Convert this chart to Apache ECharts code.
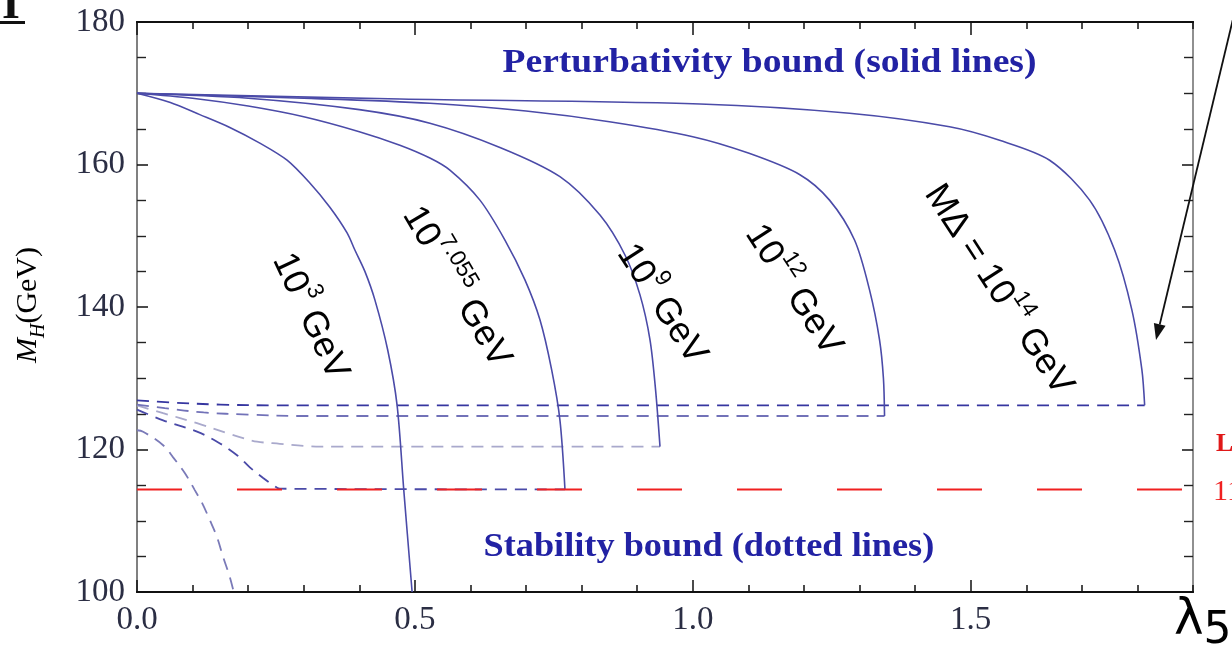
<!DOCTYPE html>
<html>
<head>
<meta charset="utf-8">
<script src="https://cdn.jsdelivr.net/npm/echarts@6/dist/echarts.min.js"></script>
<style>
  html, body { margin: 0; padding: 0; background: #fff; }
  #chart { width: 1232px; height: 650px; }
</style>
</head>
<body>
<div id="chart"></div>
<script>
// Axis ticks and labels
const lambdaMajorTicks = [0, 0.5, 1.0, 1.5];
const lambdaMinorTicks = [0, 0.1, 0.2, 0.3, 0.4, 0.5, 0.6, 0.7, 0.8, 0.9, 1.0, 1.1, 1.2, 1.3, 1.4, 1.5, 1.6, 1.7, 1.8, 1.9];

// Perturbativity bound (solid) for each triplet mass M_Delta: [lambda5, M_H]
const pert_1e3 = [[0,170],[0.06,168.7],[0.113,167.0],[0.167,165.2],[0.221,163.0],[0.27,160.6],[0.311,157.4],[0.347,154.0],[0.378,150.4],[0.392,148.0],[0.41,145.0],[0.428,141.0],[0.451,134.0],[0.468,126.2],[0.48,114.3],[0.495,100]];
const pert_1e7055 = [[0,170],[0.1,169.3],[0.2,168.2],[0.3,166.7],[0.4,164.6],[0.473,162.7],[0.527,160.9],[0.563,159.2],[0.617,155.0],[0.662,149.4],[0.698,143.8],[0.725,138.2],[0.746,131.2],[0.761,124.1],[0.77,114.4]];
const pert_1e9 = [[0,170],[0.2,169.3],[0.4,167.7],[0.527,165.8],[0.653,162.4],[0.761,158.3],[0.833,152.9],[0.878,147.3],[0.905,141.7],[0.923,135.4],[0.933,128.4],[0.941,120.4]];
const pert_1e12 = [[0,170],[0.3,169.3],[0.527,168.6],[0.7,167.5],[0.85,166.0],[1.0,163.9],[1.1,161.6],[1.192,158.6],[1.246,155.0],[1.291,149.4],[1.318,142.4],[1.336,135.4],[1.343,130.0],[1.345,124.7]];
const pert_1e14 = [[0,170],[0.473,169.2],[1.013,168.5],[1.282,167.2],[1.462,165.3],[1.552,163.4],[1.642,160.6],[1.714,155.0],[1.759,148.0],[1.79,139.6],[1.808,131.2],[1.813,126.2]];

// Stability bound (dashed) for the same masses
const stab_1e3 = [[0,122.7],[0.011,122.5],[0.047,120.6],[0.065,118.9],[0.086,116.7],[0.104,114.3],[0.117,112.5],[0.131,110.1],[0.144,107.7],[0.155,104.9],[0.167,102.1],[0.174,100]];
const stab_1e7055 = [[0,125.6],[0.047,124.1],[0.108,122.5],[0.144,121.1],[0.18,119.2],[0.203,117.5],[0.227,116.0],[0.245,115.0],[0.257,114.5],[0.77,114.4]];
const stab_1e9 = [[0,126.2],[0.047,125.1],[0.108,123.7],[0.162,122.3],[0.191,121.6],[0.216,121.1],[0.257,120.8],[0.3,120.5],[0.33,120.4],[0.941,120.4]];
const stab_1e12 = [[0,126.3],[0.05,125.8],[0.12,125.2],[0.2,124.9],[0.3,124.7],[1.345,124.7]];
const stab_1e14 = [[0,126.9],[0.06,126.6],[0.15,126.3],[0.25,126.2],[1.813,126.2]];

// LEP lower limit on the Higgs mass
const lepBound = [[0,114.4],[1.9,114.4]];

const chart = echarts.init(document.getElementById('chart'), null, { renderer: 'canvas' });

const serif = 'Liberation Serif';
const labelColor = '#2b2e44';
const solidColor = '#4b4ba8';

function xAxisDef(position, ticks, len, showLabel) {
  return {
    type: 'value', position: position, min: 0, max: 1.9,
    axisLine: { show: true, onZero: false, lineStyle: { color: '#111', width: 2 } },
    axisTick: { show: true, inside: true, length: len, customValues: ticks, lineStyle: { color: '#111', width: 1.5 } },
    axisLabel: { show: showLabel, customValues: lambdaMajorTicks, margin: 12, fontFamily: serif, fontSize: 33, color: labelColor,
                 formatter: v => v.toFixed(1) },
    splitLine: { show: false }
  };
}

function yAxisDef(position, showLabel, lineColor) {
  return {
    type: 'value', position: position, min: 100, max: 180, interval: 20,
    axisLine: { show: true, onZero: false, lineStyle: { color: lineColor, width: 2 } },
    axisTick: { show: true, inside: true, length: 11, lineStyle: { color: '#111', width: 1.5 } },
    minorTick: { show: true, splitNumber: 4, length: 9, lineStyle: { color: '#222', width: 1.4 } },
    axisLabel: { show: showLabel, margin: 12, fontFamily: serif, fontSize: 33, color: labelColor },
    splitLine: { show: false }
  };
}

function solid(data) {
  return { type: 'line', data: data, xAxisIndex: 0, yAxisIndex: 0, showSymbol: false, smooth: 0.3, z: 4,
           lineStyle: { color: solidColor, width: 1.6 } };
}
function dashed(data, color) {
  return { type: 'line', data: data, xAxisIndex: 0, yAxisIndex: 0, showSymbol: false, smooth: 0.35, z: 3,
           lineStyle: { color: color, width: 1.8, type: [12, 8] } };
}

chart.setOption({
  animation: false,
  backgroundColor: '#ffffff',
  grid: { left: 137, right: 39, top: 22, bottom: 58, containLabel: false },
  xAxis: [
    xAxisDef('bottom', lambdaMajorTicks, 12, true),
    xAxisDef('bottom', lambdaMinorTicks, 7, false),
    xAxisDef('top', lambdaMajorTicks, 13, false),
    xAxisDef('top', lambdaMinorTicks, 7, false)
  ],
  yAxis: [
    yAxisDef('left', true, '#808080'),
    yAxisDef('right', false, '#909090')
  ],
  series: [
    dashed(stab_1e3, '#7a7ab8'),
    dashed(stab_1e7055, '#4a4aa8'),
    dashed(stab_1e9, '#a9a9cc'),
    dashed(stab_1e12, '#7272b8'),
    dashed(stab_1e14, '#3636a0'),
    { type: 'line', data: lepBound, xAxisIndex: 0, yAxisIndex: 0, showSymbol: false, z: 5,
      lineStyle: { color: '#f02020', width: 2, type: [45, 55] } },
    solid(pert_1e3),
    solid(pert_1e7055),
    solid(pert_1e9),
    solid(pert_1e12),
    solid(pert_1e14)
  ]
});

// Text annotations, anchored in data coordinates
const massLabelStyle = {
  base: { fontFamily: 'Liberation Sans', fontSize: 36, color: '#404040', lineHeight: 44, verticalAlign: 'bottom' },
  sup: { fontFamily: 'Liberation Sans', fontSize: 23, color: '#404040', lineHeight: 44, verticalAlign: 'top' }
};
const massLabels = [
  { at: [0.318, 138.9], angle: -65, text: '{base|10}{sup|3}{base| GeV}' },
  { at: [0.581, 143.1], angle: -59.5, text: '{base|10}{sup|7.055}{base| GeV}' },
  { at: [0.950, 140.7], angle: -57, text: '{base|10}{sup|9}{base| GeV}' },
  { at: [1.187, 142.7], angle: -57, text: '{base|10}{sup|12}{base| GeV}' },
  { at: [1.556, 142.7], angle: -57, text: '{base|MΔ = 10}{sup|14}{base| GeV}' }
];

const graphics = massLabels.map(l => {
  const p = chart.convertToPixel({ xAxisIndex: 0, yAxisIndex: 0 }, l.at);
  return {
    type: 'text', x: p[0], y: p[1], rotation: l.angle * Math.PI / 180, z: 10,
    style: { text: l.text, rich: massLabelStyle, align: 'center', verticalAlign: 'middle' }
  };
});

const boundTitle = { fontFamily: serif, fontWeight: 'bold', fontSize: 33, fill: '#2222a4', align: 'center', verticalAlign: 'middle' };
const pPert = chart.convertToPixel({ xAxisIndex: 0, yAxisIndex: 0 }, [1.138, 174.2]);
const pStab = chart.convertToPixel({ xAxisIndex: 0, yAxisIndex: 0 }, [1.029, 106.3]);
graphics.push(
  { type: 'text', x: pPert[0], y: pPert[1], scaleX: 1.14, z: 10, style: Object.assign({ text: 'Perturbativity bound (solid lines)' }, boundTitle) },
  { type: 'text', x: pStab[0], y: pStab[1], scaleX: 1.1, z: 10, style: Object.assign({ text: 'Stability bound (dotted lines)' }, boundTitle) }
);

// Vertical axis title M_H(GeV)
graphics.push({
  type: 'text', x: 31, y: 305, rotation: Math.PI / 2, z: 10,
  style: {
    text: '{i|M}{s|H}{n|(GeV)}', align: 'center', verticalAlign: 'middle',
    rich: {
      i: { fontFamily: serif, fontStyle: 'italic', fontSize: 30, color: labelColor, lineHeight: 36, verticalAlign: 'top' },
      s: { fontFamily: serif, fontStyle: 'italic', fontSize: 20, color: labelColor, lineHeight: 36, verticalAlign: 'bottom' },
      n: { fontFamily: serif, fontSize: 30, color: labelColor, lineHeight: 36, verticalAlign: 'top' }
    }
  }
});

// Horizontal axis symbol lambda_5
graphics.push({
  type: 'text', x: 1174, y: 596, z: 10,
  style: {
    text: '{l|λ}{n|5}',
    rich: {
      l: { fontFamily: 'DejaVu Sans', fontSize: 50, color: '#111', lineHeight: 58, verticalAlign: 'top' },
      n: { fontFamily: 'DejaVu Sans', fontSize: 44, color: '#111', lineHeight: 58, verticalAlign: 'bottom' }
    }
  }
});

// Panel mark at top-left corner
graphics.push(
  { type: 'text', x: 11, y: 29, z: 10, style: { text: 'I', fontFamily: serif, fontWeight: 'bold', fontSize: 46, fill: '#111', align: 'center', verticalAlign: 'bottom' } },
  { type: 'rect', shape: { x: 0, y: 21, width: 25, height: 3 }, style: { fill: '#111' }, z: 10 }
);

// Red side labels for the LEP bound, running past the right edge
graphics.push(
  { type: 'text', x: 1216, y: 444, z: 10, style: { text: 'LEP', fontFamily: serif, fontWeight: 'bold', fontSize: 26, fill: '#e01818', verticalAlign: 'middle' } },
  { type: 'text', x: 1213, y: 492, z: 10, style: { text: '114.4', fontFamily: serif, fontSize: 30, fill: '#f02020', verticalAlign: 'middle' } }
);

// Arrow pointing at the 10^14 GeV curve
const tip = [1156, 340], tail = [1238, -2];
const ang = Math.atan2(tip[1] - tail[1], tip[0] - tail[0]);
const ah = 16, aw = 6;
const bx = tip[0] - ah * Math.cos(ang), by = tip[1] - ah * Math.sin(ang);
graphics.push(
  { type: 'line', shape: { x1: tail[0], y1: tail[1], x2: bx, y2: by }, style: { stroke: '#111', lineWidth: 1.8 }, z: 10 },
  { type: 'polygon', shape: { points: [tip, [bx + aw * Math.sin(ang), by - aw * Math.cos(ang)], [bx - aw * Math.sin(ang), by + aw * Math.cos(ang)]] },
    style: { fill: '#111' }, z: 10 }
);

chart.setOption({ graphic: graphics });
</script>
</body>
</html>
